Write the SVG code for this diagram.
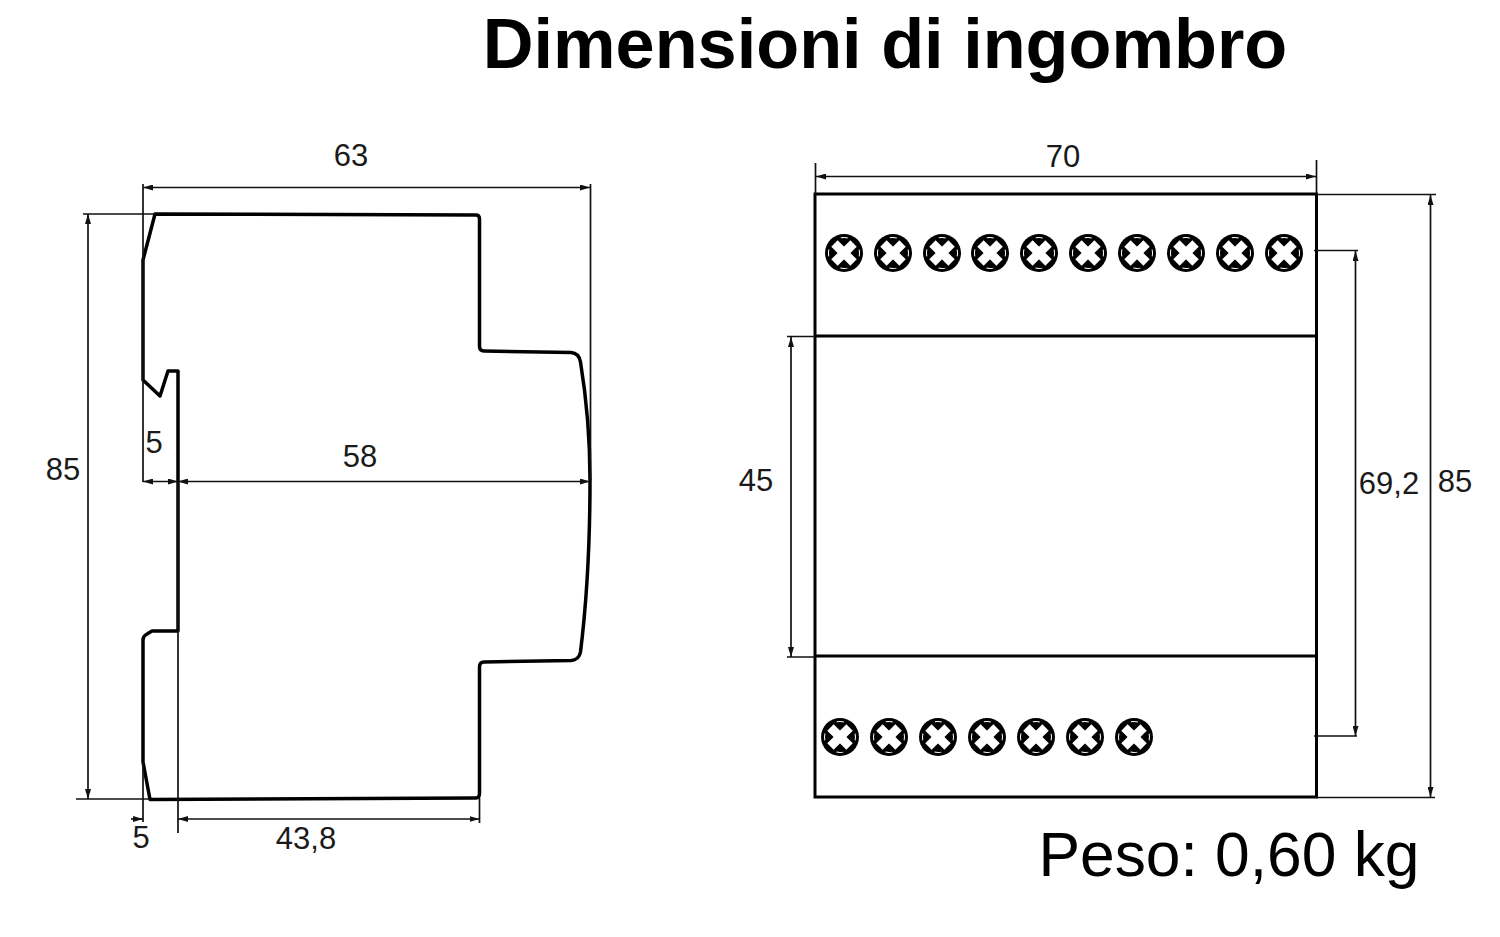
<svg xmlns="http://www.w3.org/2000/svg" width="1500" height="937" viewBox="0 0 1500 937">
<style>
.t{font-family:"Liberation Sans",Arial,sans-serif;fill:#1a1a1a;font-size:31px;text-anchor:middle}
.o{fill:none;stroke:#000;stroke-width:3.5;stroke-linejoin:round}
.d{fill:none;stroke:#111;stroke-width:1.7}
.s{fill:none;stroke:#000;stroke-width:3}
</style>
<defs>
<marker id="a" viewBox="0 0 10 6" refX="10" refY="3" markerWidth="10" markerHeight="6" orient="auto-start-reverse" markerUnits="userSpaceOnUse"><path d="M0 0L10 3L0 6Z" fill="#111"/></marker>
<g id="screw">
<circle r="19" fill="#000"/>
<circle r="15.500" fill="none" stroke="#fff" stroke-width="1" stroke-dasharray="7 17.300" transform="rotate(-13)"/>
<g transform="rotate(45)" fill="#fff"><rect x="-13.500" y="-4.500" width="27" height="9"/><rect x="-4.500" y="-13.500" width="9" height="27"/></g>
</g>
</defs>
<text class="t" x="885" y="68" style="font-size:70.300px;font-weight:bold;fill:#000">Dimensioni di ingombro</text>
<g id="side-view">
<path class="o" d="M155 214L476 215Q479.500 215 479.500 219L479.500 346Q479.500 351 484 351L571 352.500Q579 353 580.500 362Q590 420 590 480Q590 575 580.500 652Q579 660 571 660.500L484 662Q479.500 662 479.500 667L479.500 793Q479.500 798 476 798L150 799.500L143 762L143 640Q143 636 147 634L152 631L178 631L178 371L168 371L160 396L143 380L143 260Z"/>
</g>
<g id="front-view">
<rect class="s" x="815" y="194" width="501.500" height="603"/>
<path class="s" d="M815 336H1316M815 656H1316"/>
<g id="screws-top">
<use href="#screw" x="844" y="253"/><use href="#screw" x="893" y="253"/><use href="#screw" x="942" y="253"/><use href="#screw" x="990" y="253"/><use href="#screw" x="1039" y="253"/><use href="#screw" x="1088" y="253"/><use href="#screw" x="1137" y="253"/><use href="#screw" x="1186" y="253"/><use href="#screw" x="1235" y="253"/><use href="#screw" x="1284" y="253"/>
</g>
<g id="screws-bottom">
<use href="#screw" x="840" y="737"/><use href="#screw" x="889" y="737"/><use href="#screw" x="938" y="737"/><use href="#screw" x="987" y="737"/><use href="#screw" x="1036" y="737"/><use href="#screw" x="1085" y="737"/><use href="#screw" x="1134" y="737"/>
</g>
</g>
<g id="connectors">
<path class="d" d="M143 184V482M590.500 184V480M83 214H155M76 799H150M178 482V833M143 762V822"/>
<path class="d" d="M143 187.500H590" marker-start="url(#a)" marker-end="url(#a)"/>
<path class="d" d="M88 214V799" marker-start="url(#a)" marker-end="url(#a)"/>
<path class="d" d="M143 481.500H178" marker-start="url(#a)" marker-end="url(#a)"/>
<path class="d" d="M178 481.500H590" marker-start="url(#a)" marker-end="url(#a)"/>
<path class="d" d="M131 819H143" marker-end="url(#a)"/>
<path class="d" d="M178 819H479.500" marker-start="url(#a)" marker-end="url(#a)"/>
<path class="d" d="M479.500 798V823"/>
<path class="d" d="M815.500 163V194M1316.500 160V194M1316 194.500H1436M1316 797.500H1435M1314 250.500H1358M1314 736H1357M787 336.500H815M787 657H815"/>
<path class="d" d="M816 176.500H1316" marker-start="url(#a)" marker-end="url(#a)"/>
<path class="d" d="M1430.500 195V797" marker-start="url(#a)" marker-end="url(#a)"/>
<path class="d" d="M1355.500 251V736" marker-start="url(#a)" marker-end="url(#a)"/>
<path class="d" d="M791 337V657" marker-start="url(#a)" marker-end="url(#a)"/>
</g>
<g id="labels">
<text class="t" x="351" y="166">63</text>
<text class="t" x="63" y="480">85</text>
<text class="t" x="154" y="453">5</text>
<text class="t" x="360" y="467">58</text>
<text class="t" x="141" y="848">5</text>
<text class="t" x="306" y="849">43,8</text>
<text class="t" x="1063" y="167">70</text>
<text class="t" x="756" y="491">45</text>
<text class="t" x="1389" y="494">69,2</text>
<text class="t" x="1455" y="492">85</text>
<text class="t" x="1229" y="876" style="font-size:62.300px;fill:#000">Peso: 0,60 kg</text>
</g>
</svg>
